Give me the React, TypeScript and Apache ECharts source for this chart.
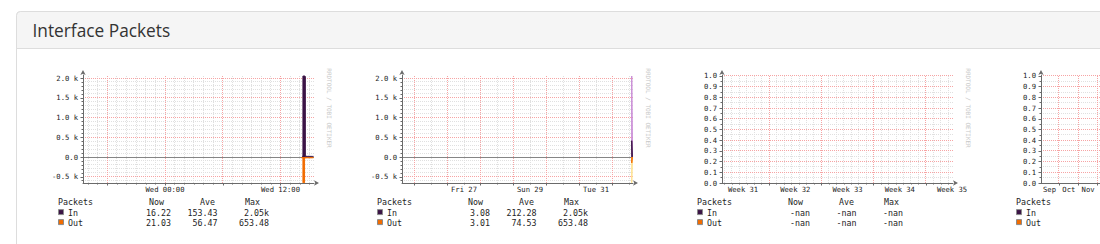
import React, { useEffect, useRef } from "react";
import * as echarts from "echarts";

const range = (a: number, b: number, s: number) => {
  const r: number[] = [];
  for (let v = a; v <= b + 1e-9; v += s) r.push(+v.toFixed(4));
  return r;
};
const without = (vals: number[], drop: number[]) => vals.filter((v) => !drop.some((d) => Math.abs(d - v) < 1e-6));

// ---- Daily graph (x: hours from Wed 00:00) ----
const dayXRange = [-8.52, 15.48];
const dayMajorX = [-6, 0, 6, 12];
const dayMinorX = without(range(-8, 15, 1), dayMajorX);
const dayLabelX = [0, 12];
const dayLabelText = ["Wed 00:00", "Wed 12:00"];
const dayTime = [14.17, 14.25, 14.33, 14.42, 14.5, 14.58, 14.67, 14.75, 14.83, 14.92, 15.0, 15.08, 15.17, 15.25, 15.33, 15.42];
const dayIn = [null, null, 18, 2050, 2050, 2040, 20, 17, 16, 18, 17, 16, 17, 16, 15, 16.22];
const dayOut = [20, 22, 21, 653, 653, 25, 22, 21, 20, 22, 21, 20, 22, 21, 20, 21.03];
const dayStats = [["16.22", "153.43", "2.05k"], ["21.03", "56.47", "653.48"]];

// ---- Weekly graph (x: days from Wed Aug 1 00:00) ----
const weekXRange = [-6.379, 0.621];
const weekMajorX = [-6, -5, -4, -3, -2, -1, 0];
const weekMinorX = without(range(-6, 0.5, 0.5), weekMajorX);
const weekLabelX = [-4.5, -2.5, -0.5];
const weekLabelText = ["Fri 27", "Sun 29", "Tue 31"];
const weekTime = [0.583, 0.604, 0.621];
const weekInMax = [0, 2050, 3.08];
const weekInAvg = [0, 412, 3.08];
const weekOutMax = [0, 653, 3.01];
const weekOutAvg = [0, 150, 3.01];
const weekStats = [["3.08", "212.28", "2.05k"], ["3.01", "74.53", "653.48"]];

// ---- Monthly graph (x: days from Monday of week 31) ----
const monthXRange = [0.68, 31.63];
const monthMajorX = [7, 14, 21, 28];
const monthMinorX = without(range(1, 31, 1), monthMajorX);
const monthLabelX = [3.5, 10.5, 17.5, 24.5, 31.5];
const monthLabelText = ["Week 31", "Week 32", "Week 33", "Week 34", "Week 35"];
const monthStats = [["-nan", "-nan", "-nan"], ["-nan", "-nan", "-nan"]];

// ---- Yearly graph (x: days from Sep 1), only the visible part ----
const yearXRange = [1.6, 366.6];
const yearMajorX = [30, 61, 91, 122, 153, 181, 212, 242, 273, 303, 334, 365];
const yearLabelX = [15, 45.5, 76];
const yearLabelText = ["Sep", "Oct", "Nov"];

// ---- Y scales ----
const pktYRange = [-658, 2076];
const pktMajorY = [-500, 500, 1000, 1500, 2000];
const pktMinorY = without(range(-600, 2000, 100), [...pktMajorY, 0]);
const pktLabelY = [-500, 0, 500, 1000, 1500, 2000];
const pktYLabels = ["-0.5 k", "0.0", "0.5 k", "1.0 k", "1.5 k", "2.0 k"];
const unitYRange = [0, 1.0093];
const unitMajorY = range(0.1, 1, 0.1);
const unitMinorY = without(range(0.05, 1, 0.05), unitMajorY);
const unitLabelY = range(0, 1, 0.1);
const unitYLabels = ["0.0", "0.1", "0.2", "0.3", "0.4", "0.5", "0.6", "0.7", "0.8", "0.9", "1.0"];

const legendNames = ["In", "Out"];

const IN = "#3b1446";
const OUT = "#f26c00";
const IN_MAX = "#c98ad6";
const OUT_MAX = "#ffe18f";
const MINOR = "#e0e0e0";
const MAJOR = "#f6a4a4";
const AXIS = "#6a6a6a";
const ZERO = "#858585";
const MONO = "DejaVu Sans Mono";

const GRID_TOP = 75;
const GRID_H = 108;
const GRID_W = 231;

const lookup = (vals: number[], texts: string[]) => (v: number) => {
  const k = vals.findIndex((t) => Math.abs(t - v) < 1e-6);
  return k >= 0 ? texts[k] : "";
};

// grid line kinds: 0 x-minor, 1 y-minor, 2 x-major, 3 y-major, 4 zero rule
const KIND_STYLE = [
  { stroke: MINOR, lineDash: [1, 1], z2: 0 },
  { stroke: MINOR, lineDash: [1, 1], z2: 0 },
  { stroke: MAJOR, lineDash: [1, 1], z2: 1 },
  { stroke: MAJOR, lineDash: [1, 1], z2: 1 },
  { stroke: ZERO, lineDash: null, z2: 2 },
];

function buildOption() {
  const charts = [
    { x0: 83, xr: dayXRange, minorX: dayMinorX, majorX: dayMajorX, labelX: dayLabelX, labelText: dayLabelText, yr: pktYRange, minorY: pktMinorY, majorY: pktMajorY, labelY: pktLabelY, yText: pktYLabels, zero: true, stats: dayStats as string[][] | null },
    { x0: 402, xr: weekXRange, minorX: weekMinorX, majorX: weekMajorX, labelX: weekLabelX, labelText: weekLabelText, yr: pktYRange, minorY: pktMinorY, majorY: pktMajorY, labelY: pktLabelY, yText: pktYLabels, zero: true, stats: weekStats },
    { x0: 722, xr: monthXRange, minorX: monthMinorX, majorX: monthMajorX, labelX: monthLabelX, labelText: monthLabelText, yr: unitYRange, minorY: unitMinorY, majorY: unitMajorY, labelY: unitLabelY, yText: unitYLabels, zero: false, stats: monthStats },
    { x0: 1041, xr: yearXRange, minorX: [] as number[], majorX: yearMajorX, labelX: yearLabelX, labelText: yearLabelText, yr: unitYRange, minorY: unitMinorY, majorY: unitMajorY, labelY: unitLabelY, yText: unitYLabels, zero: false, stats: null },
  ];

  const grid: any[] = [];
  const xAxis: any[] = [];
  const yAxis: any[] = [];
  const graphic: any[] = [];
  const series: any[] = [];

  // panel
  graphic.push({ type: "rect", z: -10, silent: true, shape: { x: 16.5, y: 11.5, width: 1200, height: 300, r: 4 }, style: { fill: "#ffffff", stroke: "#dddddd", lineWidth: 1 } });
  graphic.push({ type: "rect", z: -9, silent: true, shape: { x: 16.5, y: 11.5, width: 1200, height: 37, r: [4, 0, 0, 0] }, style: { fill: "#f5f5f5", stroke: "#dddddd", lineWidth: 1 } });
  graphic.push({ type: "text", z: 10, x: 32.5, y: 30.5, style: { text: "Interface Packets", fontFamily: "Open Sans", fontSize: 17.3, fill: "#333333", align: "left", verticalAlign: "middle" } });

  charts.forEach((c, i) => {
    grid.push({ left: c.x0, top: GRID_TOP, width: GRID_W, height: GRID_H, outerBoundsMode: "none", containLabel: false });
    const common = { type: "value", gridIndex: i, min: c.xr[0], max: c.xr[1], position: "bottom", splitLine: { show: false } };
    // 3i: label axis (with arrow), 3i+1: major ticks, 3i+2: minor ticks
    xAxis.push({
      ...common, z: 5,
      axisLine: { show: true, onZero: false, symbol: ["none", "arrow"], symbolSize: [4, 5], symbolOffset: [0, 5], lineStyle: { color: AXIS, width: 1 } },
      axisTick: { show: false, customValues: c.labelX },
      axisLabel: { show: true, customValues: c.labelX, formatter: lookup(c.labelX, c.labelText), fontFamily: MONO, fontSize: 7.2, color: "#222", margin: 3 },
    });
    xAxis.push({
      ...common, z: 5,
      axisLine: { show: false, onZero: false },
      axisTick: { show: true, length: 2.5, customValues: c.majorX, lineStyle: { color: AXIS } },
      axisLabel: { show: false },
    });
    xAxis.push({
      ...common, z: 5,
      axisLine: { show: false, onZero: false },
      axisTick: { show: c.minorX.length > 0, length: 1.5, customValues: c.minorX.length ? c.minorX : c.majorX, lineStyle: { color: AXIS } },
      axisLabel: { show: false },
    });
    const ycommon = { type: "value", gridIndex: i, min: c.yr[0], max: c.yr[1], position: "left", splitLine: { show: false } };
    yAxis.push({
      ...ycommon, z: 5,
      axisLine: { show: true, onZero: false, symbol: ["none", "arrow"], symbolSize: [4, 5], symbolOffset: [0, 5], lineStyle: { color: AXIS, width: 1 } },
      axisTick: { show: true, length: 2.5, customValues: c.labelY, lineStyle: { color: AXIS } },
      axisLabel: { show: true, customValues: c.labelY, formatter: lookup(c.labelY, c.yText), fontFamily: MONO, fontSize: 7.2, color: "#222", margin: 5 },
    });
    yAxis.push({
      ...ycommon, z: 5,
      axisLine: { show: false, onZero: false },
      axisTick: { show: true, length: 1.5, customValues: c.minorY, lineStyle: { color: AXIS } },
      axisLabel: { show: false },
    });

    // grid lines: a custom series placing each line through the axes' scales
    const gridLines = (rows: number[][], z: number) => {
      const xr = c.xr;
      const yr = c.yr;
      return {
        type: "custom", xAxisIndex: 3 * i, yAxisIndex: 2 * i, z, silent: true, clip: false,
        dimensions: ["value", "kind"],
        encode: { x: -1, y: -1 },
        data: rows,
        renderItem: (params: any, api: any) => {
          const v = api.value(0);
          const kind = api.value(1);
          const isX = kind === 0 || kind === 2;
          const a = isX ? api.coord([v, yr[0]]) : api.coord([xr[0], v]);
          const b = isX ? api.coord([v, yr[1]]) : api.coord([xr[1], v]);
          const st = KIND_STYLE[kind];
          const snap = (p: number) => Math.round(p - 0.5) + 0.5;
          const shape = isX
            ? { x1: snap(a[0]), y1: a[1], x2: snap(a[0]), y2: b[1] }
            : { x1: a[0], y1: snap(a[1]), x2: b[0], y2: snap(a[1]) };
          return {
            type: "line", z2: st.z2, shape,
            style: { stroke: st.stroke, lineWidth: 1, lineDash: st.lineDash, fill: null },
          };
        },
      };
    };
    series.push(gridLines([
      ...c.minorX.map((v) => [v, 0]),
      ...c.minorY.map((v) => [v, 1]),
      ...c.majorX.map((v) => [v, 2]),
      ...c.majorY.map((v) => [v, 3]),
    ], 1));
    if (c.zero) series.push(gridLines([[0, 4]], 3));

    // legend
    const x0 = c.x0;
    const txt = (x: number, y: number, text: string, align = "left") => ({
      type: "text", z: 10, x, y, silent: true,
      style: { text, fontFamily: MONO, fontSize: 8.3, fill: "#1e1e1e", align, verticalAlign: "middle" },
    });
    graphic.push(txt(x0 - 25, 202.4, "Packets"));
    if (c.stats) {
      graphic.push(txt(x0 + 66, 202.4, "Now"));
      graphic.push(txt(x0 + 117, 202.4, "Ave"));
      graphic.push(txt(x0 + 162, 202.4, "Max"));
    }
    legendNames.forEach((name, r) => {
      const y = 212.6 + r * 10;
      graphic.push({ type: "rect", z: 10, silent: true, shape: { x: x0 - 24.5, y: y - 3, width: 5, height: 5 }, style: { fill: r === 0 ? IN : OUT, stroke: "#8a8a8a", lineWidth: 1 } });
      graphic.push(txt(x0 - 15, y, name));
      if (c.stats) {
        const s = c.stats[r];
        graphic.push(txt(x0 + 88, y, s[0], "right"));
        graphic.push(txt(x0 + 134.5, y, s[1], "right"));
        graphic.push(txt(s[2] === "-nan" ? x0 + 181 : x0 + 186, y, s[2], "right"));
      }
    });
    if (c.stats) {
      graphic.push({
        type: "text", z: 10, x: x0 + 246, y: 108, rotation: -Math.PI / 2, silent: true,
        style: { text: "RRDTOOL / TOBI OETIKER", fontFamily: MONO, fontSize: 6, fill: "#c8c8c8", align: "center", verticalAlign: "middle" },
      });
    }
  });

  const area = (gi: number, times: number[], vals: (number | null)[], color: string, sign: number) => ({
    type: "line", xAxisIndex: 3 * gi, yAxisIndex: 2 * gi, step: "start", showSymbol: false, symbol: "none", z: 4,
    data: times.map((t, k) => [t, vals[k] == null ? null : sign * (vals[k] as number)]),
    lineStyle: { color, width: 1 }, itemStyle: { color }, areaStyle: { color, opacity: 1 },
    emphasis: { disabled: true },
  });

  series.push(
    area(0, dayTime, dayIn, IN, 1),
    area(0, dayTime, dayOut, OUT, -1),
    area(1, weekTime, weekInMax, IN_MAX, 1),
    area(1, weekTime, weekInAvg, IN, 1),
    area(1, weekTime, weekOutMax, OUT_MAX, -1),
    area(1, weekTime, weekOutAvg, OUT, -1),
  );

  return { animation: false, backgroundColor: "#ffffff", grid, xAxis, yAxis, series, graphic };
}

export default function App() {
  const ref = useRef<HTMLDivElement>(null);
  useEffect(() => {
    if (!ref.current) return;
    const chart = echarts.init(ref.current, undefined, { renderer: "svg" });
    chart.setOption(buildOption() as any);
    return () => chart.dispose();
  }, []);
  return <div ref={ref} style={{ position: "absolute", left: 0, top: 0, width: 1100, height: 244 }} />;
}
